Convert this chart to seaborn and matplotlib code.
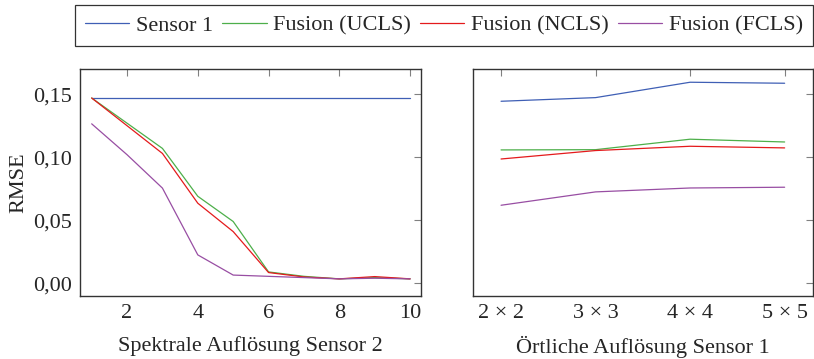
import numpy as np
import pandas as pd
import matplotlib
matplotlib.use("Agg")
import matplotlib.pyplot as plt
import seaborn as sns
from matplotlib.ticker import FuncFormatter

series = ["Sensor 1", "Fusion (UCLS)", "Fusion (NCLS)", "Fusion (FCLS)"]
colors = ["#3f5fb5", "#4daf4a", "#e41a1c", "#984ea3"]

spec_x = [1, 2, 3, 4, 5, 6, 7, 8, 9, 10]
spec_sensor1 = [0.147, 0.147, 0.147, 0.147, 0.147, 0.147, 0.147, 0.147, 0.147, 0.147]
spec_ucls = [0.147, 0.127, 0.107, 0.069, 0.049, 0.009, 0.0055, 0.0035, 0.0045, 0.0035]
spec_ncls = [0.147, 0.125, 0.103, 0.0635, 0.041, 0.0085, 0.005, 0.0035, 0.0053, 0.0035]
spec_fcls = [0.1265, 0.102, 0.0755, 0.0225, 0.0065, 0.0055, 0.0045, 0.0035, 0.004, 0.0035]

spat_labels = ["2 × 2", "3 × 3", "4 × 4", "5 × 5"]
spat_sensor1 = [0.1444, 0.1473, 0.1595, 0.1587]
spat_ucls = [0.1058, 0.1060, 0.1143, 0.1121]
spat_ncls = [0.0986, 0.1053, 0.1087, 0.1074]
spat_fcls = [0.0619, 0.0725, 0.0756, 0.0762]

def long_df(x, vals):
    rows = []
    for name, v in zip(series, vals):
        for xi, yi in zip(x, v):
            rows.append({"x": xi, "y": yi, "series": name})
    return pd.DataFrame(rows)

df_spec = long_df(spec_x, [spec_sensor1, spec_ucls, spec_ncls, spec_fcls])
df_spat = long_df(list(range(len(spat_labels))), [spat_sensor1, spat_ucls, spat_ncls, spat_fcls])

sns.set_style("white")
plt.rcParams["font.family"] = ["Liberation Serif", "DejaVu Serif"]
plt.rcParams["mathtext.fontset"] = "stix"
FS = 16

fig = plt.figure(figsize=(8.14, 3.59), dpi=100)
W, H = 814, 359
axL = fig.add_axes([80 / W, 1 - 296 / H, (420.7 - 80) / W, (296 - 69) / H])
axR = fig.add_axes([472.7 / W, 1 - 296 / H, (813 - 472.7) / W, (296 - 69) / H])

pal = dict(zip(series, colors))
sns.lineplot(data=df_spec, x="x", y="y", hue="series", palette=pal, ax=axL,
             linewidth=0.9, legend=False, hue_order=series)
sns.lineplot(data=df_spat, x="x", y="y", hue="series", palette=pal, ax=axR,
             linewidth=0.9, legend=False, hue_order=series)

ylim = (-0.0101, 0.1700)
fmt = FuncFormatter(lambda v, p: f"{v:.2f}".replace(".", ","))
for ax in (axL, axR):
    ax.set_ylim(*ylim)
    ax.set_yticks([0.0, 0.05, 0.10, 0.15])
    ax.yaxis.set_major_formatter(fmt)
    ax.tick_params(direction="in", length=5, width=0.8, color="#808080",
                   top=True, right=True, labelsize=FS, pad=6)
    for s in ax.spines.values():
        s.set_color("#333333")
        s.set_linewidth(1.0)
        s.set_visible(True)

axL.set_xlim(0.67, 10.3)
axL.set_xticks([2, 4, 6, 8, 10])
axL.set_xlabel("Spektrale Auflösung Sensor 2", fontsize=FS, labelpad=9)
axL.set_ylabel("RMSE", fontsize=FS, labelpad=3)

axR.set_xlim(-0.3, 3.3)
axR.set_xticks(range(len(spat_labels)))
axR.set_xticklabels(spat_labels)
axR.tick_params(labelleft=False)
axR.set_xlabel("Örtliche Auflösung Sensor 1", fontsize=FS, labelpad=9)
axR.set_ylabel("")

handles = [plt.Line2D([], [], color=c, lw=0.9) for c in colors]
leg = fig.legend(handles, series, loc="upper left",
                 bbox_to_anchor=(75 / W, 1 - 5 / H, (813 - 75) / W, 0.0001), mode="expand",
                 ncol=4, frameon=True, fancybox=False, edgecolor="black",
                 fontsize=FS, handlelength=2.0, handletextpad=0.3, columnspacing=0.3,
                 borderpad=0.45, borderaxespad=0)
leg.get_frame().set_linewidth(0.9)

fig.savefig("out.png", dpi=100)
